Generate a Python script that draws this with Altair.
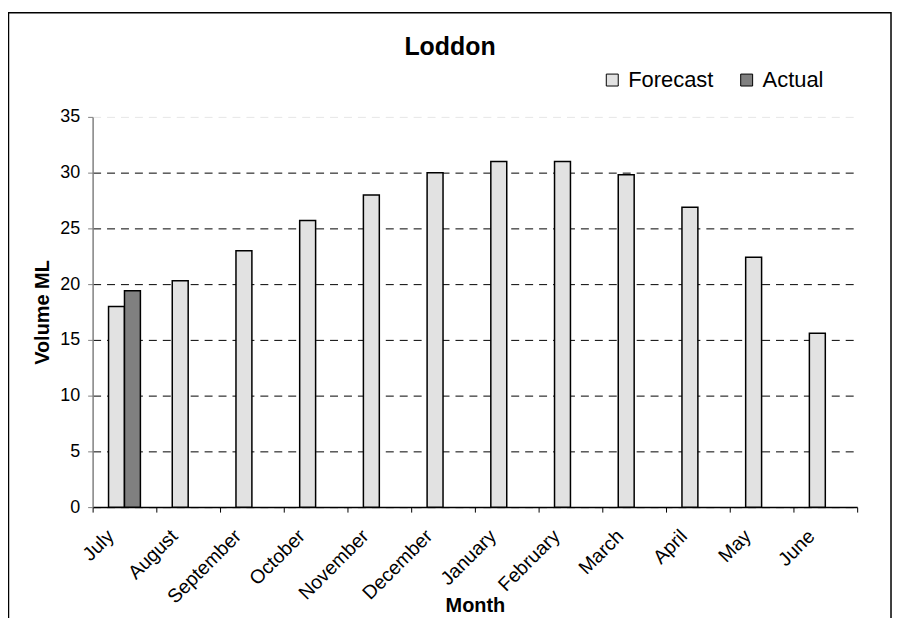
import altair as alt
import pandas as pd

months = ["July", "August", "September", "October", "November", "December",
          "January", "February", "March", "April", "May", "June"]
forecast = [18.0, 20.3, 23.0, 25.7, 28.0, 30.0, 31.0, 31.0, 29.8, 26.9, 22.4, 15.6]
actual_months = ["July"]
actual = [19.4]
series = ["Forecast", "Actual"]
y_ticks = [0, 5, 10, 15, 20, 25, 30, 35]

rows = [{"Month": m, "Series": "Forecast", "Volume": v} for m, v in zip(months, forecast)]
rows += [{"Month": m, "Series": "Actual", "Volume": v} for m, v in zip(actual_months, actual)]
df = pd.DataFrame(rows)

FONT = "Liberation Sans"
PW, PH = 768, 392

bars = alt.Chart(df).mark_bar(stroke="black", strokeWidth=1.5).encode(
    x=alt.X("Month:N", sort=months,
            scale=alt.Scale(paddingInner=0, paddingOuter=0),
            axis=alt.Axis(title="Month", labelAngle=-45, tickBand="extent",
                          labelAlign="right", labelBaseline="alphabetic",
                          labelOffset=-10, labelPadding=25,
                          labelFontSize=19.5, labelFont=FONT, labelColor="black",
                          tickSize=5, tickColor="black",
                          domainColor="black", domainWidth=1.5, grid=False,
                          titleFontSize=20, titleFont=FONT, titleFontWeight="bold",
                          titleColor="black", titleBaseline="alphabetic", titleY=105)),
    xOffset=alt.XOffset("Series:N", sort=series,
                        scale=alt.Scale(domain=series, paddingInner=0, paddingOuter=1)),
    y=alt.Y("Volume:Q", scale=alt.Scale(domain=[0, 35], nice=False),
            axis=alt.Axis(values=y_ticks, title="Volume ML",
                          labelFontSize=18, labelFont=FONT, labelColor="black",
                          labelPadding=8, tickSize=5, tickColor="#808080",
                          domainColor="#808080", domainWidth=1.5,
                          gridColor=alt.condition("datum.value >= 35", alt.value("#e6e6e6"), alt.value("black")),
                          gridDash=[8, 6], gridWidth=1,
                          titleFontSize=20, titleFont=FONT, titleFontWeight="bold",
                          titleColor="black", titlePadding=7)),
    color=alt.Color("Series:N", sort=series,
                    scale=alt.Scale(domain=series, range=["#e2e2e2", "#808080"]),
                    legend=alt.Legend(orient="none", legendX=511, legendY=-48,
                                      direction="horizontal", title=None,
                                      labelFontSize=22, labelFont=FONT, labelColor="black",
                                      symbolType="square", symbolSize=144,
                                      symbolStrokeColor="black", symbolStrokeWidth=1,
                                      labelOffset=5, columnPadding=22, padding=0)),
)

frame_data = alt.Data(values=[{"k": 1}])
border = alt.Chart(frame_data).mark_rect(fill="transparent", stroke="black", strokeWidth=1.5).encode(
    x=alt.value(-84.5), x2=alt.value(802), y=alt.value(-104.5), y2=alt.value(560)
)

title = alt.Chart(frame_data).mark_text(
    text="Loddon", font=FONT, fontSize=25, fontWeight="bold", color="black",
    align="center", baseline="alphabetic"
).encode(x=alt.value(359), y=alt.value(-62))

chart = alt.layer(border, bars, title).properties(
    width=PW, height=PH,
    padding={"left": 85, "top": 108, "right": 36, "bottom": 110},
    autosize=alt.AutoSizeParams(type="none"),
    background="white",
).configure_view(strokeWidth=0)

chart.save("out.html", embed_options={"renderer": "svg", "actions": False})
